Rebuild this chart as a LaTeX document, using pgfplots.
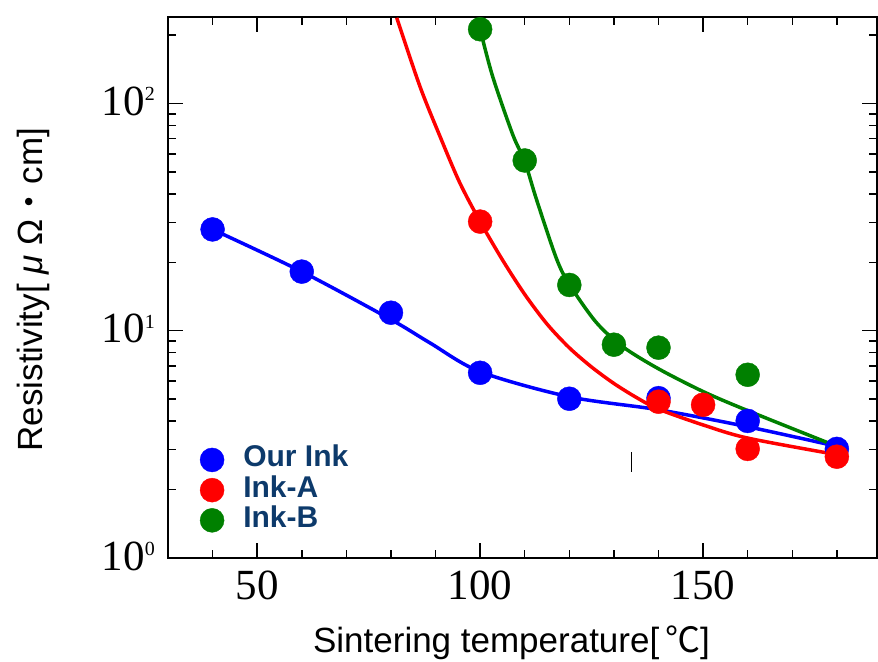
\documentclass[border=0pt]{standalone}
\usepackage{fontspec}
\setmainfont{Liberation Serif}
\newfontfamily\sansf{Liberation Sans}
\newfontfamily\cjk{Noto Sans CJK JP}
\usepackage{pgfplots}
\pgfplotsset{compat=1.18}
\definecolor{legtext}{HTML}{0D3A6B}
\definecolor{cblue}{HTML}{0000FF}
\definecolor{cred}{HTML}{FF0000}
\definecolor{cgreen}{HTML}{008000}
\newcommand{\tl}[1]{10\raisebox{14.5bp}{\fontsize{20bp}{20bp}\selectfont #1}}
\begin{document}
\begin{tikzpicture}
\begin{axis}[
  at={(0,0)}, anchor=south west,
  scale only axis, width=709bp, height=541bp,
  xmin=30, xmax=189, ymode=log, ymin=1, ymax=240,
  axis line style={line width=1.5bp},
  tick style={black, line width=1.5bp},
  major tick length=15bp, minor tick length=8bp,
  xtick={50,100,150}, xticklabels={50,100,150},
  minor xtick={40,60,70,80,90,110,120,130,140,160,170,180},
  ytick={1,10,100}, yticklabels={{\tl{0}},{\tl{1}},{\tl{2}}},
  minor ytick={2,3,4,5,6,7,8,9,20,30,40,50,60,70,80,90,200},
  xticklabel style={font=\fontsize{43bp}{43bp}\selectfont, inner sep=0pt, anchor=base, yshift=-41bp},
  yticklabel style={font=\fontsize{43bp}{43bp}\selectfont, inner sep=0pt, anchor=base east, xshift=-13bp, yshift=-12bp},
  xlabel={\sansf\fontsize{35bp}{35bp}\selectfont Sintering temperature[\,{\cjk ℃}]},
  xlabel style={at={(axis description cs:0.4845,-0.1738)}, anchor=base},
  ylabel={\sansf\fontsize{35bp}{35bp}\selectfont Resistivity[\;\textit{μ}\;Ω{\cjk ・}cm]},
  ylabel style={at={(axis description cs:-0.1777,0.496)}, anchor=base},
  legend style={at={(0.045,0.209)}, anchor=north west, draw=none, fill=none,
    inner sep=0pt, outer sep=0pt, row sep=3bp, column sep=19bp,
    font=\sansf\bfseries\fontsize{30bp}{30bp}\selectfont, text=legtext,
    nodes={inner sep=0pt, text height=22bp, text depth=5bp, anchor=base west}},
  legend cell align=left,
]
% Our Ink
\addplot[cblue, line width=3.5bp, smooth, forget plot] coordinates {
 (40,27.9) (60,18.2) (80,11.2) (88.7,8.85) (100,6.6) (120,5.12) (140,4.49) (160,3.78) (180,3.1)};
\addplot[cblue, only marks, mark=*, mark size=12bp, mark options={draw=none, fill=cblue},
  legend image code/.code={\fill[cblue] (12bp,7bp) circle (12bp);}] coordinates {
 (40,27.9) (60,18.2) (80,12.0) (100,6.53) (120,5.02) (140,5.05) (160,4.01) (180,3.02)};
\addlegendentry{Our Ink}
% Ink-A
\addplot[cred, line width=3.5bp, smooth, forget plot] coordinates {
 (81.3,238) (86.5,118.8) (91,71.6) (95.4,44.9) (100,30.2) (105,20.5) (110,14.45) (115,10.7)
 (120,8.41) (125,6.92) (130,5.86) (135,5.09) (140,4.52) (150,3.85) (160,3.37) (180,2.85)};
\addplot[cred, only marks, mark=*, mark size=12bp, mark options={draw=none, fill=cred},
  legend image code/.code={\fill[cred] (12bp,7bp) circle (12bp);}] coordinates {
 (100,30.2) (140,4.87) (150,4.72) (160,3.02) (180,2.79)};
\addlegendentry{Ink-A}
% Ink-B
\addplot[cgreen, only marks, mark=*, mark size=12bp, mark options={draw=none, fill=cgreen},
  legend image code/.code={\fill[cgreen] (12bp,7bp) circle (12bp);}] coordinates {
 (100,212) (110,56.1) (120,15.9) (130,8.68) (140,8.42) (160,6.40)};
\addlegendentry{Ink-B}
\addplot[cgreen, line width=3.5bp, smooth, forget plot] coordinates {
 (100,212) (102.8,131.5) (107.3,73) (110,55.6) (112.6,38) (117.1,20.8) (120,16.0)
 (126,10.9) (132,8.5) (140,6.8) (150,5.4) (160,4.45) (180,3.1)};
\draw[black, line width=0.7bp] (axis cs:133.9,2.39) -- (axis cs:133.9,2.93);
\end{axis}
\pgfresetboundingbox
\path (-168bp,-104bp) rectangle (710bp,558bp);
\end{tikzpicture}
\end{document}
